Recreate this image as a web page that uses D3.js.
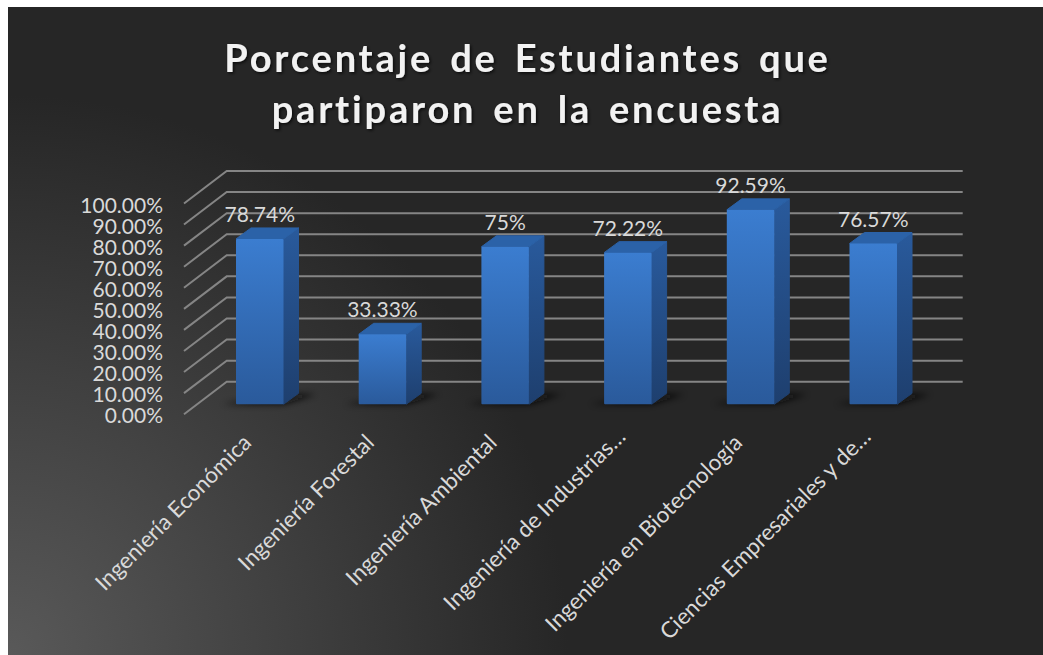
<!DOCTYPE html>
<html><head><meta charset="utf-8">
<script src="https://d3js.org/d3.v7.min.js"></script>
<style>html,body{margin:0;padding:0;background:#fff}svg{display:block}text{font-family:Lato,"Open Sans",sans-serif}</style>
</head><body><div id="c"></div>
<script>
const titleLines = ["Porcentaje de Estudiantes que", "partiparon en la encuesta"];
const categories = ["Ingeniería Económica","Ingeniería Forestal","Ingeniería Ambiental","Ingeniería de Industrias…","Ingeniería en Biotecnología","Ciencias Empresariales y de…"];
const values = [78.74, 33.33, 75, 72.22, 92.59, 76.57];
const valueLabels = ["78.74%","33.33%","75%","72.22%","92.59%","76.57%"];
const ticks = [0,10,20,30,40,50,60,70,80,90,100];

const W=1043,H=655;
const svg=d3.select("#c").append("svg").attr("width",W).attr("height",H);
const defs=svg.append("defs");
const bg=defs.append("radialGradient").attr("id","bg").attr("gradientUnits","userSpaceOnUse")
  .attr("cx",8).attr("cy",655).attr("r",560);
bg.append("stop").attr("offset",0).attr("stop-color","#595959");
bg.append("stop").attr("offset",0.5).attr("stop-color","#404040");
bg.append("stop").attr("offset",1).attr("stop-color","#262626");
const fr=defs.append("linearGradient").attr("id","front").attr("x1",0).attr("x2",0).attr("y1",0).attr("y2",1);
fr.append("stop").attr("offset",0).attr("stop-color","#3b7dd0");
fr.append("stop").attr("offset",1).attr("stop-color","#2a5a9b");
const sd=defs.append("linearGradient").attr("id","side").attr("x1",0).attr("x2",0).attr("y1",0).attr("y2",1);
sd.append("stop").attr("offset",0).attr("stop-color","#295a9c");
sd.append("stop").attr("offset",1).attr("stop-color","#1e3f6e");
defs.append("filter").attr("id","blur").attr("x","-30%").attr("y","-100%").attr("width","160%").attr("height","300%")
  .append("feGaussianBlur").attr("stdDeviation",3);
const ts=defs.append("filter").attr("id","tshadow");
ts.append("feDropShadow").attr("dx",1.5).attr("dy",1.5).attr("stdDeviation",1.5).attr("flood-color","#000").attr("flood-opacity",0.7);

svg.append("rect").attr("x",8).attr("y",7).attr("width",W-8).attr("height",H-7).attr("fill","url(#bg)");

// scales
const y=d3.scaleLinear().domain([0,100]).range([0,210]);
const yGrid=d3.scaleLinear().domain([0,100]).range([381.7,171]);
const x=d3.scaleBand().domain(categories).range([198.4,934.6]);
const baseY=404.3, dx=15, dy=-11;
const bw=47.5;
const bx=d=>x(d)+x.bandwidth()/2-bw/2;

// title
svg.append("g").selectAll("text").data(titleLines).join("text")
  .attr("x",527.5).attr("y",(d,i)=>72+i*51).attr("text-anchor","middle")
  .attr("font-size",38).attr("font-weight",700).attr("letter-spacing",2.8).attr("word-spacing",5)
  .attr("fill","#f2f2f2").attr("filter","url(#tshadow)").text(d=>d);

// gridlines
const grid=svg.append("g").attr("fill","none").attr("stroke","#858585").attr("stroke-width",2);
grid.selectAll("path").data(ticks).join("path")
  .attr("d",t=>`M184,${yGrid(t)+32.5}L226.7,${yGrid(t)}H962.7`);

// y tick labels
svg.append("g").selectAll("text").data(ticks).join("text")
  .attr("x",163).attr("y",t=>yGrid(t)+41.5).attr("text-anchor","end")
  .attr("font-size",21).attr("fill","#d9d9d9").text(t=>d3.format(".2f")(t)+"%");

// bars
const bars=svg.append("g").selectAll("g").data(categories).join("g");
bars.append("path").attr("filter","url(#blur)").attr("fill","#0a0a0a").attr("opacity",0.85)
  .attr("d",c=>{const l=bx(c),b=baseY;return `M${l-14},${b}H${l+bw}L${l+bw+dx+18},${b+dy+1}H${l+bw}Z`;});
const V=c=>values[categories.indexOf(c)];
bars.append("path").attr("fill","url(#side)").attr("stroke","url(#side)").attr("stroke-width",1).attr("stroke-linejoin","round")
  .attr("d",c=>{const l=bx(c)+bw,t=baseY-y(V(c));return `M${l},${t}L${l+dx},${t+dy}V${baseY+dy}L${l},${baseY}Z`;});
bars.append("path").attr("fill","#2b62a8").attr("stroke","#2b62a8").attr("stroke-width",1).attr("stroke-linejoin","round")
  .attr("d",c=>{const l=bx(c),t=baseY-y(V(c));return `M${l},${t}L${l+dx},${t+dy}H${l+bw+dx}L${l+bw},${t}Z`;});
bars.append("rect").attr("x",bx).attr("y",c=>baseY-y(V(c))).attr("width",bw).attr("height",c=>y(V(c)))
  .attr("rx",1).attr("fill","url(#front)");

// data labels
svg.append("g").selectAll("text").data(categories).join("text")
  .attr("x",c=>bx(c)+bw/2).attr("y",c=>baseY-y(V(c))+dy-6).attr("text-anchor","middle")
  .attr("font-size",21).attr("fill","#d9d9d9").text((c,i)=>valueLabels[i]);

// category labels (truncated labels sit a little further along the slant)
svg.append("g").selectAll("text").data(categories).join("text")
  .attr("transform",c=>{const s=c.endsWith("…")?6:0;return `translate(${bx(c)+bw/2-7+s},${444-s}) rotate(-45)`;}).attr("text-anchor","end")
  .attr("font-size",22.5).attr("fill","#d9d9d9").text(c=>c);
</script></body></html>
